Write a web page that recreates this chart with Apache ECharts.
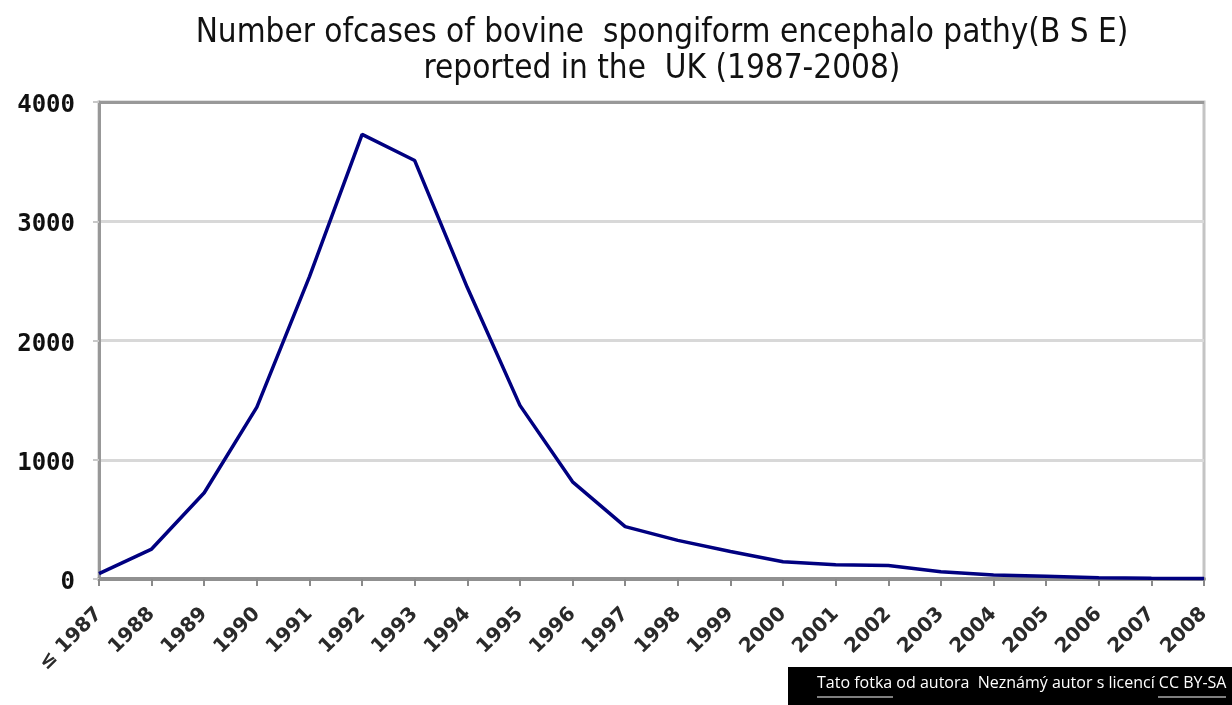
<!DOCTYPE html>
<html>
<head>
<meta charset="utf-8">
<script src="https://cdn.jsdelivr.net/npm/echarts@6/dist/echarts.min.js"></script>
<style>html,body{margin:0;padding:0;background:#fff}#c{width:1232px;height:705px}</style>
</head>
<body>
<div id="c"></div>
<script>
const years = ['≤ 1987','1988','1989','1990','1991','1992','1993','1994','1995','1996','1997','1998','1999','2000','2001','2002','2003','2004','2005','2006','2007','2008'];
const cases = [45, 251, 723, 1441, 2536, 3728, 3509, 2444, 1456, 815, 439, 324, 230, 144, 120, 114, 61, 34, 23, 11, 7, 4];
const yTicks = [0, 1000, 2000, 3000, 4000];
const titleLines = ['Number ofcases of bovine  spongiform encephalo pathy(B S E)', 'reported in the  UK (1987-2008)'];
const creditText = 'Tato fotka od autora  Neznámý autor s licencí CC BY-SA';

const chart = echarts.init(document.getElementById('c'), null, {renderer: 'canvas'});
chart.setOption({
  animation: false,
  backgroundColor: '#fff',
  title: {
    text: titleLines.join('\n'),
    left: 657, textAlign: 'center', top: 10,
    textStyle: {fontFamily: 'DejaVu Sans Condensed', fontWeight: 'normal', fontSize: 33, lineHeight: 36, color: '#111'}
  },
  grid: {left: 99, right: 28, top: 102, bottom: 126, show: true, borderColor: '#c4c4c4', borderWidth: 3, backgroundColor: 'transparent'},
  xAxis: {
    type: 'category', data: years, boundaryGap: false,
    axisLine: {lineStyle: {color: '#909090', width: 4}},
    axisTick: {show: true, length: 7, lineStyle: {color: '#8a8a8a', width: 2}},
    axisLabel: {rotate: 45, margin: 32, fontFamily: 'DejaVu Sans', fontWeight: 'bold', fontSize: 20, color: '#2a2a2a', interval: 0},
    splitLine: {show: false}
  },
  yAxis: {
    type: 'value', min: 0, max: 4000, interval: 1000,
    axisLine: {show: true, lineStyle: {color: '#989898', width: 3}},
    axisTick: {show: true, length: 6, lineStyle: {color: '#c8c8c8', width: 2}},
    axisLabel: {margin: 24, fontFamily: 'DejaVu Sans Mono', fontWeight: 'bold', fontSize: 24, color: '#111',
      verticalAlign: 'top', lineHeight: 8,
      formatter: v => yTicks.includes(v) ? String(v) : ''},
    splitLine: {show: true, lineStyle: {color: ['#d8d8d8', '#d8d8d8', '#d8d8d8', '#d8d8d8', '#999999'], width: 3}}
  },
  series: [{
    type: 'line', data: cases, showSymbol: false, smooth: false,
    lineStyle: {color: '#000080', width: 3.5}, itemStyle: {color: '#000080'}
  }],
  graphic: [
    {type: 'rect', left: 788, top: 667, shape: {width: 444, height: 38}, style: {fill: '#000'}, z: 100},
    {type: 'text', left: 817, top: 675, style: {text: creditText, fill: '#fff', font: '16px "Open Sans", "Liberation Sans", sans-serif'}, z: 101},
    {type: 'line', shape: {x1: 817, y1: 697, x2: 893, y2: 697}, style: {stroke: '#fff', lineWidth: 1}, z: 101},
    {type: 'line', shape: {x1: 1158, y1: 697, x2: 1226, y2: 697}, style: {stroke: '#fff', lineWidth: 1}, z: 101}
  ]
});
</script>
</body>
</html>
